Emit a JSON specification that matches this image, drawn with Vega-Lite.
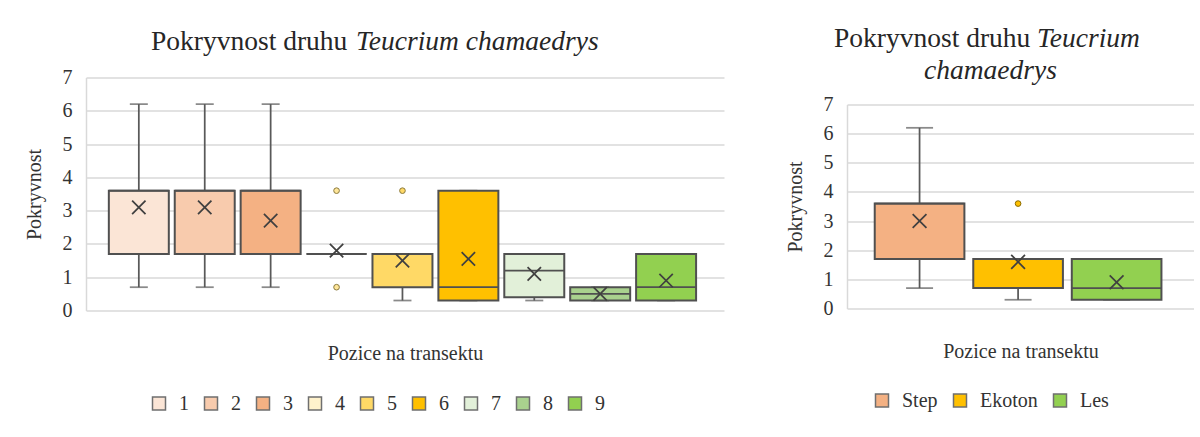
{
  "$schema": "https://vega.github.io/schema/vega-lite/v6.json",
  "padding": {"left": 24, "top": 24.5, "right": 0, "bottom": 0},
  "background": "white",
  "spacing": 61,
  "resolve": {"scale": {"color": "independent", "fill": "independent"}, "legend": {"color": "independent", "fill": "independent"}},
  "config": {
    "font": "Liberation Serif",
    "view": {"stroke": null},
    "title": {"font": "Liberation Serif", "fontSize": 27.5, "fontWeight": "normal", "color": "#262626", "anchor": "start", "frame": "bounds", "offset": 4, "baseline": "alphabetic"},
    "axis": {"labelFont": "Liberation Serif", "titleFont": "Liberation Serif", "labelFontSize": 20, "titleFontSize": 20, "titleFontWeight": "normal", "labelColor": "#333333", "titleColor": "#333333"}
  },
  "datasets": {
    "L": [
      {"pos": "1", "lower": 0.7, "q1": 1.7, "median": 3.6, "q3": 3.6, "upper": 6.2, "mean": 3.1},
      {"pos": "2", "lower": 0.7, "q1": 1.7, "median": 3.6, "q3": 3.6, "upper": 6.2, "mean": 3.1},
      {"pos": "3", "lower": 0.7, "q1": 1.7, "median": 3.6, "q3": 3.6, "upper": 6.2, "mean": 2.7},
      {"pos": "4", "lower": 1.7, "q1": 1.7, "median": 1.7, "q3": 1.7, "upper": 1.7, "mean": 1.8},
      {"pos": "5", "lower": 0.3, "q1": 0.7, "median": 1.7, "q3": 1.7, "upper": 1.7, "mean": 1.5},
      {"pos": "6", "lower": 0.3, "q1": 0.3, "median": 0.7, "q3": 3.6, "upper": 3.6, "mean": 1.55},
      {"pos": "7", "lower": 0.3, "q1": 0.4, "median": 1.2, "q3": 1.7, "upper": 1.7, "mean": 1.1},
      {"pos": "8", "lower": 0.3, "q1": 0.3, "median": 0.5, "q3": 0.7, "upper": 0.7, "mean": 0.5},
      {"pos": "9", "lower": 0.3, "q1": 0.3, "median": 0.7, "q3": 1.7, "upper": 1.7, "mean": 0.9}
    ],
    "LO": [
      {"pos": "4", "value": 3.6},
      {"pos": "4", "value": 0.7},
      {"pos": "5", "value": 3.6}
    ],
    "R": [
      {"pos": "Step", "lower": 0.7, "q1": 1.7, "median": 3.6, "q3": 3.6, "upper": 6.2, "mean": 3.0},
      {"pos": "Ekoton", "lower": 0.3, "q1": 0.7, "median": 1.7, "q3": 1.7, "upper": 1.7, "mean": 1.6},
      {"pos": "Les", "lower": 0.3, "q1": 0.3, "median": 0.7, "q3": 1.7, "upper": 1.7, "mean": 0.9}
    ],
    "RO": [
      {"pos": "Ekoton", "value": 3.6}
    ],
    "EMPTY": []
  },
  "hconcat": [
    {
      "title": {"text": "Pokryvnost druhu", "dx": 127, "dy": 31.5, "offset": 4},
      "vconcat": [
        {
          "title": {"text": "Teucrium chamaedrys", "fontStyle": "italic", "frame": "group", "dx": 270, "offset": 12},
          "width": 638,
          "height": 233,
          "data": {"name": "L"},
          "encoding": {
            "x": {"field": "pos", "type": "nominal", "title": "Pozice na transektu",
              "scale": {"domain": ["1","2","3","4","5","6","7","8","9"], "paddingInner": 0.09, "paddingOuter": 0.385, "align": 0.45},
              "axis": {"labels": false, "ticks": false, "domain": false, "grid": false, "titlePadding": 33}}
          },
          "layer": [
            {"mark": {"type": "rule", "color": "#595959", "strokeWidth": 1.75},
             "encoding": {"y": {"field": "lower", "type": "quantitative", "title": "Pokryvnost",
               "scale": {"domain": [0, 7], "nice": false},
               "axis": {"values": [0,1,2,3,4,5,6,7], "tickCount": 10, "labelOverlap": false, "format": "d", "grid": true, "gridColor": "#D9D9D9", "gridWidth": 1.5, "domainColor": "#D9D9D9", "domainWidth": 1.5, "ticks": false, "labelPadding": 14, "titlePadding": 18}},
               "y2": {"field": "q1"}}},
            {"mark": {"type": "rule", "color": "#595959", "strokeWidth": 1.75},
             "encoding": {"y": {"field": "q3", "type": "quantitative", "title": "Pokryvnost",
               "axis": {"values": [0,1,2,3,4,5,6,7], "tickCount": 10, "labelOverlap": false, "format": "d", "grid": true, "gridColor": "#D9D9D9", "gridWidth": 1.5, "domainColor": "#D9D9D9", "domainWidth": 1.5, "ticks": false, "labelPadding": 14, "titlePadding": 18}},
               "y2": {"field": "upper"}}},
            {"mark": {"type": "tick", "color": "#595959", "thickness": 1.75, "size": 18},
             "encoding": {"y": {"field": "lower", "type": "quantitative", "title": "Pokryvnost",
               "axis": {"values": [0,1,2,3,4,5,6,7], "tickCount": 10, "labelOverlap": false, "format": "d", "grid": true, "gridColor": "#D9D9D9", "gridWidth": 1.5, "domainColor": "#D9D9D9", "domainWidth": 1.5, "ticks": false, "labelPadding": 14, "titlePadding": 18}}}},
            {"mark": {"type": "tick", "color": "#595959", "thickness": 1.75, "size": 18},
             "encoding": {"y": {"field": "upper", "type": "quantitative", "title": "Pokryvnost",
               "axis": {"values": [0,1,2,3,4,5,6,7], "tickCount": 10, "labelOverlap": false, "format": "d", "grid": true, "gridColor": "#D9D9D9", "gridWidth": 1.5, "domainColor": "#D9D9D9", "domainWidth": 1.5, "ticks": false, "labelPadding": 14, "titlePadding": 18}}}},
            {"mark": {"type": "bar", "stroke": "#505050", "strokeWidth": 2},
             "encoding": {"y": {"field": "q1", "type": "quantitative", "title": "Pokryvnost",
               "axis": {"values": [0,1,2,3,4,5,6,7], "tickCount": 10, "labelOverlap": false, "format": "d", "grid": true, "gridColor": "#D9D9D9", "gridWidth": 1.5, "domainColor": "#D9D9D9", "domainWidth": 1.5, "ticks": false, "labelPadding": 14, "titlePadding": 18}},
               "y2": {"field": "q3"},
               "color": {"field": "pos", "type": "nominal",
                 "scale": {"domain": ["1","2","3","4","5","6","7","8","9"], "range": ["#FBE5D6","#F8CBAD","#F4B183","#FFF2CC","#FFD966","#FFC000","#E2F0D9","#A9D18E","#92D050"]},
                 "legend": {"orient": "none", "legendX": 63, "legendY": 316, "direction": "horizontal", "title": null, "symbolType": "square", "symbolSize": 169, "symbolStrokeColor": "#6f6f6f", "symbolStrokeWidth": 1.5, "symbolOpacity": 1, "labelFont": "Liberation Serif", "labelFontSize": 20, "labelColor": "#333333", "labelOffset": 10, "columnPadding": 12}}}},
            {"mark": {"type": "bar", "fillOpacity": 0, "stroke": "#505050", "strokeWidth": 1.75},
             "encoding": {"y": {"field": "median", "type": "quantitative", "title": "Pokryvnost",
               "axis": {"values": [0,1,2,3,4,5,6,7], "tickCount": 10, "labelOverlap": false, "format": "d", "grid": true, "gridColor": "#D9D9D9", "gridWidth": 1.5, "domainColor": "#D9D9D9", "domainWidth": 1.5, "ticks": false, "labelPadding": 14, "titlePadding": 18}},
               "y2": {"field": "median"}}},
            {"mark": {"type": "point", "shape": "M-1,-1L1,1M-1,1L1,-1", "filled": false, "stroke": "#404040", "strokeWidth": 1.75, "size": 180, "opacity": 1},
             "encoding": {"y": {"field": "mean", "type": "quantitative", "title": "Pokryvnost",
               "axis": {"values": [0,1,2,3,4,5,6,7], "tickCount": 10, "labelOverlap": false, "format": "d", "grid": true, "gridColor": "#D9D9D9", "gridWidth": 1.5, "domainColor": "#D9D9D9", "domainWidth": 1.5, "ticks": false, "labelPadding": 14, "titlePadding": 18}}}},
            {"data": {"name": "LO"},
             "mark": {"type": "point", "shape": "circle", "filled": true, "size": 32, "stroke": "#8a7a40", "strokeWidth": 1, "opacity": 1},
             "encoding": {"y": {"field": "value", "type": "quantitative", "title": "Pokryvnost",
               "axis": {"values": [0,1,2,3,4,5,6,7], "tickCount": 10, "labelOverlap": false, "format": "d", "grid": true, "gridColor": "#D9D9D9", "gridWidth": 1.5, "domainColor": "#D9D9D9", "domainWidth": 1.5, "ticks": false, "labelPadding": 14, "titlePadding": 18}},
               "fill": {"field": "pos", "type": "nominal", "legend": null,
                 "scale": {"domain": ["1","2","3","4","5","6","7","8","9"], "range": ["#FBE5D6","#F8CBAD","#F4B183","#FFE699","#FFD966","#FFC000","#E2F0D9","#A9D18E","#92D050"]}}}}
          ]
        }
      ]
    },
    {
      "title": {"text": "Pokryvnost druhu", "dx": 49, "dy": 31.5, "offset": 4},
      "vconcat": [
        {
          "title": {"text": "Teucrium", "fontStyle": "italic", "dx": 252, "offset": 4},
          "spacing": 0,
          "vconcat": [
            {
              "title": {"text": "chamaedrys", "fontStyle": "italic", "frame": "group", "dx": 77, "dy": 6.8, "offset": 0},
              "width": 347,
              "height": 17,
              "data": {"name": "EMPTY"},
              "mark": "point"
            },
            {
              "width": 347,
              "height": 204,
              "data": {"name": "R"},
              "encoding": {
                "x": {"field": "pos", "type": "nominal", "title": "Pozice na transektu",
                  "scale": {"domain": ["Step","Ekoton","Les"], "paddingInner": 0.09, "paddingOuter": 0.306, "align": 0.46},
                  "axis": {"labels": false, "ticks": false, "domain": false, "grid": false, "titlePadding": 33}}
              },
              "layer": [
                {"mark": {"type": "rule", "color": "#595959", "strokeWidth": 1.75},
                 "encoding": {"y": {"field": "lower", "type": "quantitative", "title": "Pokryvnost",
                   "scale": {"domain": [0, 7], "nice": false},
                   "axis": {"values": [0,1,2,3,4,5,6,7], "tickCount": 10, "labelOverlap": false, "format": "d", "grid": true, "gridColor": "#D9D9D9", "gridWidth": 1.5, "domainColor": "#D9D9D9", "domainWidth": 1.5, "ticks": false, "labelPadding": 14, "titlePadding": 18}},
                   "y2": {"field": "q1"}}},
                {"mark": {"type": "rule", "color": "#595959", "strokeWidth": 1.75},
                 "encoding": {"y": {"field": "q3", "type": "quantitative", "title": "Pokryvnost",
                   "axis": {"values": [0,1,2,3,4,5,6,7], "tickCount": 10, "labelOverlap": false, "format": "d", "grid": true, "gridColor": "#D9D9D9", "gridWidth": 1.5, "domainColor": "#D9D9D9", "domainWidth": 1.5, "ticks": false, "labelPadding": 14, "titlePadding": 18}},
                   "y2": {"field": "upper"}}},
                {"mark": {"type": "tick", "color": "#595959", "thickness": 1.75, "size": 27},
                 "encoding": {"y": {"field": "lower", "type": "quantitative", "title": "Pokryvnost",
                   "axis": {"values": [0,1,2,3,4,5,6,7], "tickCount": 10, "labelOverlap": false, "format": "d", "grid": true, "gridColor": "#D9D9D9", "gridWidth": 1.5, "domainColor": "#D9D9D9", "domainWidth": 1.5, "ticks": false, "labelPadding": 14, "titlePadding": 18}}}},
                {"mark": {"type": "tick", "color": "#595959", "thickness": 1.75, "size": 27},
                 "encoding": {"y": {"field": "upper", "type": "quantitative", "title": "Pokryvnost",
                   "axis": {"values": [0,1,2,3,4,5,6,7], "tickCount": 10, "labelOverlap": false, "format": "d", "grid": true, "gridColor": "#D9D9D9", "gridWidth": 1.5, "domainColor": "#D9D9D9", "domainWidth": 1.5, "ticks": false, "labelPadding": 14, "titlePadding": 18}}}},
                {"mark": {"type": "bar", "stroke": "#505050", "strokeWidth": 2},
                 "encoding": {"y": {"field": "q1", "type": "quantitative", "title": "Pokryvnost",
                   "axis": {"values": [0,1,2,3,4,5,6,7], "tickCount": 10, "labelOverlap": false, "format": "d", "grid": true, "gridColor": "#D9D9D9", "gridWidth": 1.5, "domainColor": "#D9D9D9", "domainWidth": 1.5, "ticks": false, "labelPadding": 14, "titlePadding": 18}},
                   "y2": {"field": "q3"},
                   "color": {"field": "pos", "type": "nominal",
                     "scale": {"domain": ["Step","Ekoton","Les"], "range": ["#F4B183","#FFC000","#92D050"]},
                     "legend": {"orient": "none", "legendX": 25, "legendY": 313, "direction": "horizontal", "title": null, "symbolType": "square", "symbolSize": 169, "symbolStrokeColor": "#6f6f6f", "symbolStrokeWidth": 1.5, "symbolOpacity": 1, "labelFont": "Liberation Serif", "labelFontSize": 20, "labelColor": "#333333", "labelOffset": 10, "columnPadding": 12}}}},
                {"mark": {"type": "bar", "fillOpacity": 0, "stroke": "#505050", "strokeWidth": 1.75},
                 "encoding": {"y": {"field": "median", "type": "quantitative", "title": "Pokryvnost",
                   "axis": {"values": [0,1,2,3,4,5,6,7], "tickCount": 10, "labelOverlap": false, "format": "d", "grid": true, "gridColor": "#D9D9D9", "gridWidth": 1.5, "domainColor": "#D9D9D9", "domainWidth": 1.5, "ticks": false, "labelPadding": 14, "titlePadding": 18}},
                   "y2": {"field": "median"}}},
                {"mark": {"type": "point", "shape": "M-1,-1L1,1M-1,1L1,-1", "filled": false, "stroke": "#404040", "strokeWidth": 1.75, "size": 190, "opacity": 1},
                 "encoding": {"y": {"field": "mean", "type": "quantitative", "title": "Pokryvnost",
                   "axis": {"values": [0,1,2,3,4,5,6,7], "tickCount": 10, "labelOverlap": false, "format": "d", "grid": true, "gridColor": "#D9D9D9", "gridWidth": 1.5, "domainColor": "#D9D9D9", "domainWidth": 1.5, "ticks": false, "labelPadding": 14, "titlePadding": 18}}}},
                {"data": {"name": "RO"},
                 "mark": {"type": "point", "shape": "circle", "filled": true, "size": 32, "stroke": "#8a6a00", "strokeWidth": 1, "opacity": 1},
                 "encoding": {"y": {"field": "value", "type": "quantitative", "title": "Pokryvnost",
                   "axis": {"values": [0,1,2,3,4,5,6,7], "tickCount": 10, "labelOverlap": false, "format": "d", "grid": true, "gridColor": "#D9D9D9", "gridWidth": 1.5, "domainColor": "#D9D9D9", "domainWidth": 1.5, "ticks": false, "labelPadding": 14, "titlePadding": 18}},
                   "fill": {"field": "pos", "type": "nominal", "legend": null,
                     "scale": {"domain": ["Step","Ekoton","Les"], "range": ["#F4B183","#FFC000","#92D050"]}}}}
              ]
            }
          ]
        }
      ]
    }
  ]
}
